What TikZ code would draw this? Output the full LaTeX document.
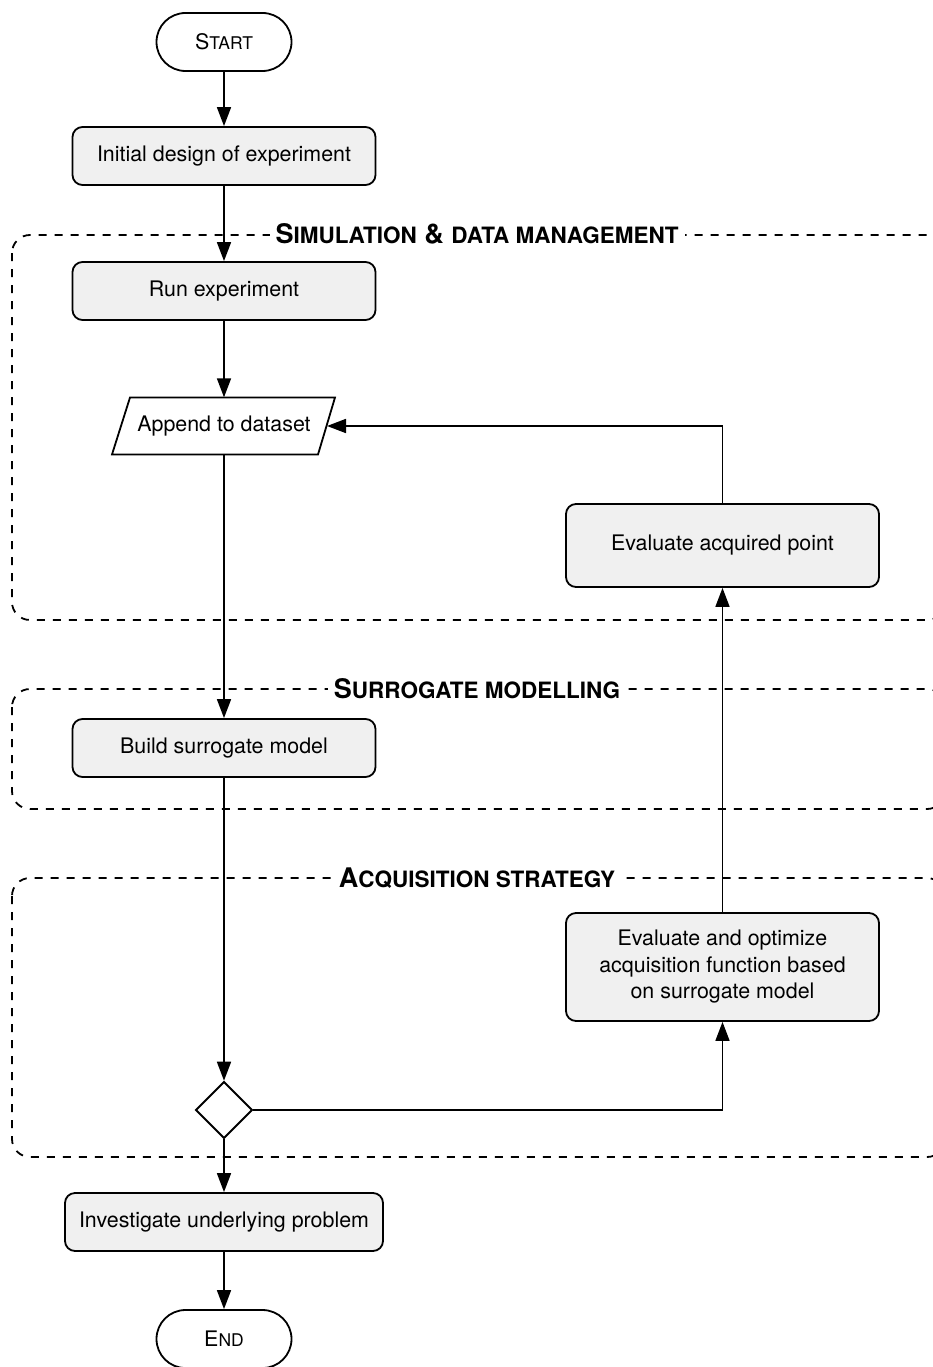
\documentclass[tikz,border=0pt]{standalone}
\usepackage{fontspec}
\setmainfont{TeX Gyre Heros}
\usetikzlibrary{arrows.meta}
\definecolor{boxgray}{HTML}{F0F0F0}
\newcommand{\fakesc}[2]{#1{\fontsize{17.5}{20}\selectfont #2}}
\newcommand{\fakescb}[2]{#1{\fontsize{22.5}{25}\selectfont #2}}
\begin{document}
\begin{tikzpicture}[x=1pt,y=-1pt,
  every node/.style={font=\fontsize{21.4}{26.5}\selectfont},
  proc/.style={draw, line width=1.8pt, rounded corners=10pt, fill=boxgray,
    minimum width=303pt, minimum height=58pt, inner sep=0pt, align=center},
  term/.style={draw, line width=1.8pt, rounded corners=29pt,
    minimum width=135pt, minimum height=58pt, inner sep=0pt},
  grp/.style={line width=1.8pt, dash pattern=on 8pt off 8pt, rounded corners=18pt},
  grplabel/.style={fill=white, inner sep=6pt, font=\fontsize{27}{30}\selectfont\bfseries},
  conn/.style={line width=1.7pt, -{Triangle[length=19pt,width=14pt]}},
]
\useasboundingbox (0,0) rectangle (933,1367);
\clip (0,0) rectangle (933,1367);

% groups
\draw[grp] (12,235) rectangle (945,620);
\draw[grp] (12,689) rectangle (945,809);
\draw[grp] (12,878) rectangle (945,1157);
\node[grplabel] (g1) at (477,234) {\fakescb{S}{IMULATION} \& \fakescb{}{DATA MANAGEMENT}};
\node[grplabel] (g2) at (477,689) {\fakescb{S}{URROGATE MODELLING}};
\node[grplabel] (g3) at (477,878) {\fakescb{A}{CQUISITION STRATEGY}};

% nodes
\node[term] (start) at (224,42) {\fakesc{S}{TART}};
\node[proc] (init) at (224,156) {Initial design of experiment};
\node[proc] (run) at (224,291) {Run experiment};
\node[inner sep=0pt, minimum width=206pt, minimum height=57pt] (app) at (224,426) {Append to dataset};
\draw[line width=1.8pt, line join=miter] (130,397.5) -- (335,397.5) -- (318,454.5) -- (112,454.5) -- cycle;
\coordinate (appR) at (327,426);
\node[proc, minimum width=313pt, minimum height=83pt] (evalpt) at (722.5,545.5) {Evaluate acquired point};
\node[proc] (build) at (224,748) {Build surrogate model};
\node[proc, minimum width=313pt, minimum height=108pt] (acq) at (722.5,967)
  {Evaluate and optimize\\acquisition function based\\on surrogate model};
\node[draw, line width=1.8pt, inner sep=0pt, shape=rectangle, rotate=45,
  minimum size=39.6pt] (dec) at (224,1110) {};
\node[proc, minimum width=318pt] (inv) at (224,1222) {Investigate underlying problem};
\node[term] (end) at (224,1339) {\fakesc{E}{ND}};

% connectors
\draw[conn] (start) -- (init);
\draw[conn] (init) -- (run);
\draw[conn] (run) -- (app);
\draw[conn] (app) -- (build);
\draw[conn] (build) -- (dec.north east);
\draw[conn] (dec.south east) -| (acq.south);
\draw[conn] (acq) -- (evalpt);
\draw[conn] (evalpt.north) |- (appR);
\draw[conn] (dec.south west) -- (inv);
\draw[conn] (inv) -- (end);
\end{tikzpicture}
\end{document}
